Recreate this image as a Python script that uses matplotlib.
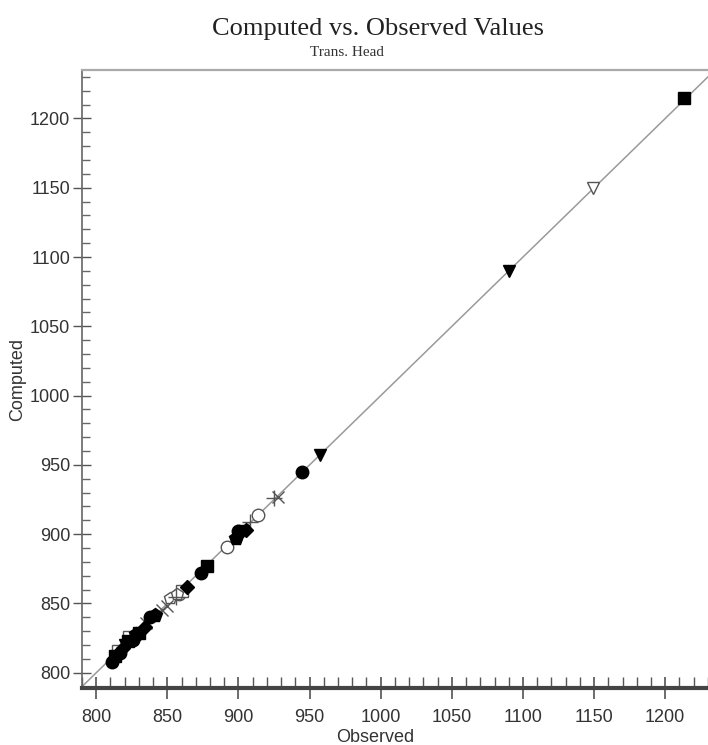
import matplotlib
matplotlib.use("Agg")
import matplotlib.pyplot as plt
from matplotlib.ticker import MultipleLocator

# observed / computed head values, grouped by the marker each well uses
circ_obs = [811, 817, 826, 838, 874, 900, 945]
circ_cmp = [808, 814, 824, 840, 872, 902, 945]
sq_obs = [813, 822, 830, 878, 1213]
sq_cmp = [812, 823, 829, 877, 1215]
dia_obs = [819, 834, 864, 905]
dia_cmp = [818, 833, 862, 903]
tri_obs = [820, 903, 957, 1090]
tri_cmp = [820, 902, 957, 1090]
pent_obs = [828, 841, 898]
pent_cmp = [828, 842, 897]
ocirc_obs = [858, 892, 914]
ocirc_cmp = [857, 891, 914]
osq_obs = [815, 823, 860]
osq_cmp = [816, 826, 859]
x_obs = [835, 846, 850, 928]
x_cmp = [836, 845, 848, 927]
plus_obs = [856, 908, 925]
plus_cmp = [855, 909, 926]
otri_obs = [1149]
otri_cmp = [1150]
opent_obs = [852, 857]
opent_cmp = [854, 857]

xlim = (790, 1235)
ylim = (789, 1235)

fig = plt.figure(figsize=(7.08, 7.45), dpi=100)
ax = fig.add_axes([82 / 708, 57 / 745, 633 / 708, 618 / 745])

ax.plot([780, 1240], [780, 1240], color="#9a9a9a", lw=1.1, zorder=1)

filled = dict(color="black", ls="none", ms=9, zorder=3)
ax.plot(circ_obs, circ_cmp, marker="o", **filled)
ax.plot(sq_obs, sq_cmp, marker="s", **{**filled, "ms": 8})
ax.plot(dia_obs, dia_cmp, marker="D", **{**filled, "ms": 7})
ax.plot(tri_obs, tri_cmp, marker="v", **filled)
ax.plot(pent_obs, pent_cmp, marker="p", **{**filled, "ms": 10})

hollow = dict(mfc="white", mec="#555555", ls="none", ms=9, mew=1.0, zorder=2)
ax.plot(ocirc_obs, ocirc_cmp, marker="o", **hollow)
ax.plot(osq_obs, osq_cmp, marker="s", **{**hollow, "ms": 8})
ax.plot(otri_obs, otri_cmp, marker="v", **hollow)
ax.plot(opent_obs, opent_cmp, marker="p", **hollow)
ax.plot(x_obs, x_cmp, marker="x", color="#555555", ls="none", ms=9, mew=1.0, zorder=2)
ax.plot(plus_obs, plus_cmp, marker="+", color="#555555", ls="none", ms=12, mew=1.0, zorder=2)

ax.set_xlim(*xlim)
ax.set_ylim(*ylim)
ax.xaxis.set_major_locator(MultipleLocator(50))
ax.xaxis.set_minor_locator(MultipleLocator(10))
ax.yaxis.set_major_locator(MultipleLocator(50))
ax.yaxis.set_minor_locator(MultipleLocator(10))

ax.tick_params(axis="x", which="major", direction="inout", length=16, width=1.1,
               color="#444444", labelsize=13, labelcolor="#333333", pad=7)
ax.tick_params(axis="x", which="minor", direction="in", length=8, width=1.0, color="#555555")
ax.tick_params(axis="y", which="major", direction="inout", length=13, width=1.0,
               color="#555555", labelsize=13, labelcolor="#333333", pad=2)
ax.tick_params(axis="y", which="minor", direction="in", length=6, width=1.0, color="#666666")

for lab in ax.get_xticklabels() + ax.get_yticklabels():
    lab.set_family("Liberation Sans")

ax.spines["right"].set_visible(False)
ax.spines["top"].set_color("#aaaaaa")
ax.spines["top"].set_linewidth(1.6)
ax.spines["left"].set_color("#666666")
ax.spines["left"].set_linewidth(1.2)
ax.spines["bottom"].set_color("#444444")
ax.spines["bottom"].set_linewidth(3.0)

ax.set_xlabel("Observed", family="Liberation Sans", fontsize=13, color="#333333")
ax.set_ylabel("Computed", family="Liberation Sans", fontsize=13, color="#333333")
ax.xaxis.set_label_coords(0.463, -0.067)
ax.yaxis.set_label_coords(-0.088, 0.5)

fig.text(378 / 708, 1 - 29 / 745, "Computed vs. Observed Values", family="Liberation Serif",
         fontsize=19, color="#222222", ha="center", va="center")
fig.text(347 / 708, 1 - 53 / 745, "Trans. Head", family="Liberation Serif",
         fontsize=11, color="#333333", ha="center", va="center")

fig.savefig("out.png", dpi=100)
